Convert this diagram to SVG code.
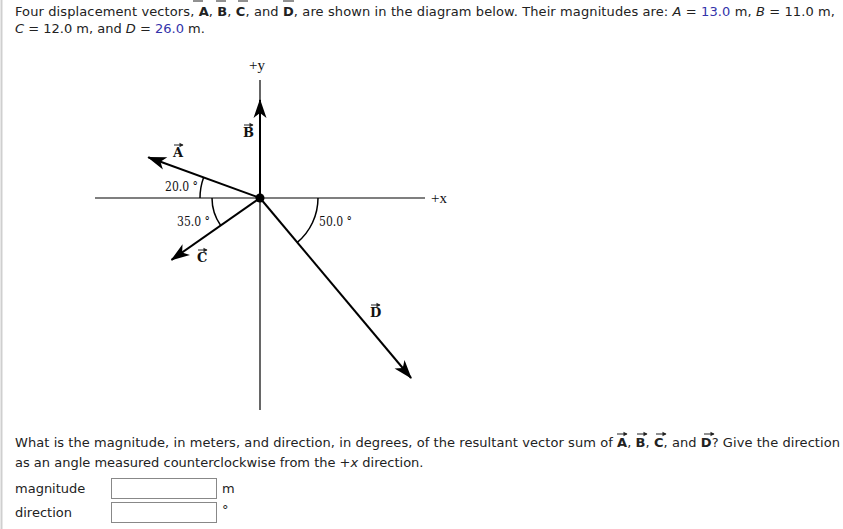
<svg xmlns="http://www.w3.org/2000/svg" width="843" height="529" viewBox="0 0 843 529">
<style>
.t{font-family:"DejaVu Sans",Verdana,sans-serif;font-size:13px;fill:#222}
.b{font-weight:bold}
.i{font-style:italic}
.v{fill:#3333aa}
.s{font-family:"DejaVu Serif","Liberation Serif",serif;font-size:12px;fill:#111}
.ax{font-family:"Liberation Serif","DejaVu Serif",serif;font-size:15px;fill:#111}
.vl{font-family:"DejaVu Serif","Liberation Serif",serif;font-size:13px;font-weight:bold;fill:#111}
.axis{stroke:#000;stroke-width:1.2;fill:none}
.vec{stroke:#000;stroke-width:2;fill:none}
.arc{stroke:#000;stroke-width:1.5;fill:none}
.ov{stroke:#222;stroke-width:1;fill:none}
.box{fill:#fff;stroke:#888;stroke-width:1}
</style>
<defs>
<marker id="ah" markerUnits="userSpaceOnUse" markerWidth="20" markerHeight="14" viewBox="-19 -7 20 14" refX="0" refY="0" orient="auto">
<path d="M1,0 L-18,-6.5 L-13,0 L-18,6.5 Z" fill="#000"/>
</marker>
<marker id="sm" markerUnits="userSpaceOnUse" markerWidth="6" markerHeight="6" viewBox="-4 -3 5 6" refX="0" refY="0" orient="auto">
<path d="M0.5,0 L-3.5,-2.2 L-3.5,2.2 Z" fill="#222"/>
</marker>
</defs>
<rect width="843" height="529" fill="#fff"/>
<line x1="1.5" y1="0" x2="1.5" y2="529" stroke="#cfcfcf" stroke-width="2"/>
<g id="header">
<g class="ov">
<line x1="193" y1="1" x2="203" y2="1"/><line x1="216" y1="1" x2="226" y2="1"/><line x1="238" y1="1" x2="248" y2="1"/><line x1="283" y1="1" x2="294" y2="1"/>
</g>
<text class="t" x="15" y="16" textLength="820" lengthAdjust="spacing">Four displacement vectors, <tspan class="b">A</tspan>, <tspan class="b">B</tspan>, <tspan class="b">C</tspan>, and <tspan class="b">D</tspan>, are shown in the diagram below. Their magnitudes are: <tspan class="i">A</tspan> = <tspan class="v">13.0</tspan> m, <tspan class="i">B</tspan> = 11.0 m,</text>
<text class="t" x="15" y="33"><tspan class="i">C</tspan> = 12.0 m, and <tspan class="i">D</tspan> = <tspan class="v">26.0</tspan> m.</text>
</g>
<g id="axes">
<line class="axis" x1="95" y1="198" x2="425" y2="198"/>
<line class="axis" x1="260" y1="80" x2="260" y2="410"/>
<text class="ax" x="249" y="70">+y</text>
<text class="ax" x="431" y="203">+x</text>
</g>
<g id="connectors">
<line id="vecA" class="vec" x1="260" y1="198" x2="148.2" y2="157.3" marker-end="url(#ah)"/>
<line id="vecB" class="vec" x1="260" y1="198" x2="260" y2="100" marker-end="url(#ah)"/>
<line id="vecC" class="vec" x1="260" y1="198" x2="171.5" y2="259.9" marker-end="url(#ah)"/>
<line id="vecD" class="vec" x1="260" y1="198" x2="411.1" y2="378" marker-end="url(#ah)"/>
<path class="arc" d="M200,198 A60,60 0 0 1 203.6,177.5"/>
<path class="arc" d="M212,198 A48,48 0 0 0 220.7,225.5"/>
<path class="arc" d="M318,198 A58,58 0 0 1 297.3,242.4"/>
</g>
<circle cx="260" cy="198" r="4.5" fill="#000"/>
<g id="angle-labels">
<text class="s" x="165" y="191" textLength="33" lengthAdjust="spacingAndGlyphs">20.0 °</text>
<text class="s" x="177" y="226" textLength="33" lengthAdjust="spacingAndGlyphs">35.0 °</text>
<text class="s" x="319" y="226" textLength="33" lengthAdjust="spacingAndGlyphs">50.0 °</text>
</g>
<g id="labelA"><text class="vl" x="173" y="157">A</text><line class="ov" x1="174" y1="145" x2="183" y2="145" marker-end="url(#sm)"/></g>
<g id="labelB"><text class="vl" x="243" y="137">B</text><line class="ov" x1="244" y1="125" x2="253" y2="125" marker-end="url(#sm)"/></g>
<g id="labelC"><text class="vl" x="197" y="262">C</text><line class="ov" x1="198" y1="250" x2="207" y2="250" marker-end="url(#sm)"/></g>
<g id="labelD"><text class="vl" x="370" y="317">D</text><line class="ov" x1="371" y1="305" x2="380" y2="305" marker-end="url(#sm)"/></g>
<g id="question">
<text class="t" x="15" y="447" textLength="825" lengthAdjust="spacing">What is the magnitude, in meters, and direction, in degrees, of the resultant vector sum of <tspan class="b">A</tspan>, <tspan class="b">B</tspan>, <tspan class="b">C</tspan>, and <tspan class="b">D</tspan>? Give the direction</text>
<g class="ov">
<line x1="617" y1="434" x2="627" y2="434" marker-end="url(#sm)"/>
<line x1="637" y1="434" x2="647" y2="434" marker-end="url(#sm)"/>
<line x1="656" y1="434" x2="666" y2="434" marker-end="url(#sm)"/>
<line x1="704" y1="434" x2="714" y2="434" marker-end="url(#sm)"/>
</g>
<text class="t" x="15" y="467">as an angle measured counterclockwise from the +<tspan class="i">x</tspan> direction.</text>
</g>
<g id="inputs">
<text class="t" x="15" y="493">magnitude</text>
<rect class="box" x="111.5" y="478.5" width="105" height="20"/>
<text class="t" x="222" y="493">m</text>
<text class="t" x="15" y="517">direction</text>
<rect class="box" x="111.5" y="502.5" width="105" height="20"/>
<text class="t" x="222" y="514" font-size="11">°</text>
</g>
</svg>
